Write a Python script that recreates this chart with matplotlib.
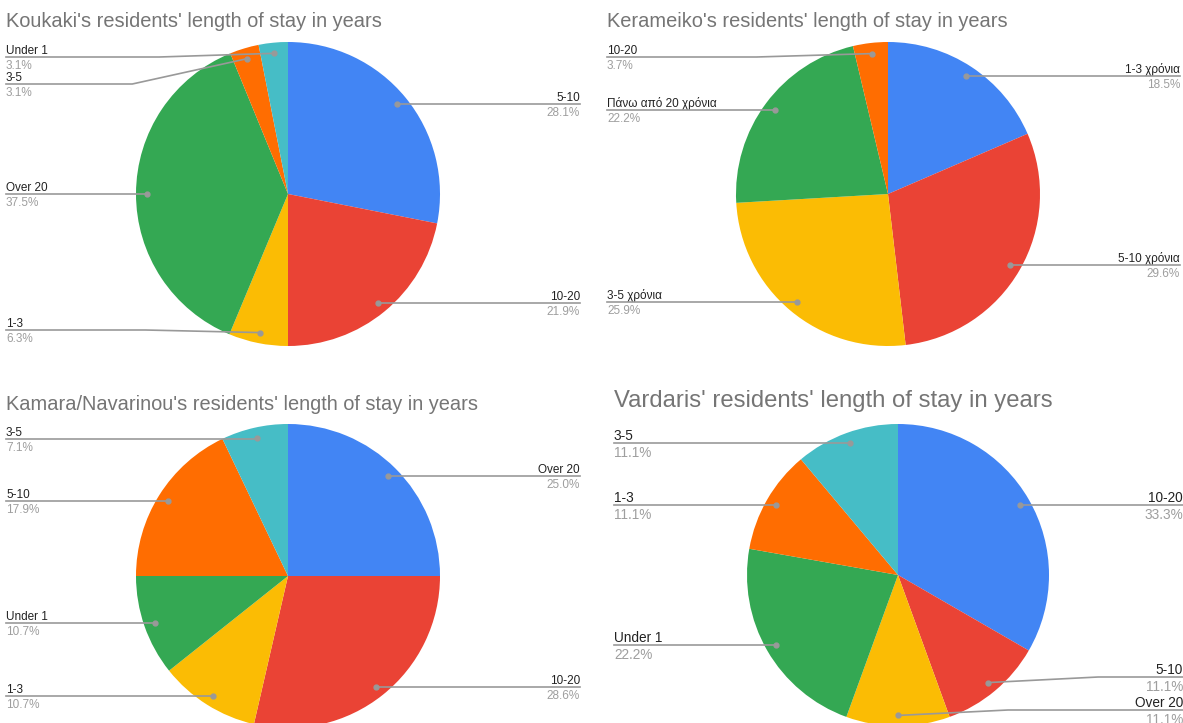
import numpy as np
import matplotlib.pyplot as plt

# Google Sheets default slice colours
palette = ['#4285F4', '#EA4335', '#FBBC04', '#34A853', '#FF6D01', '#46BDC6']

koukaki_labels = ['5-10', '10-20', '1-3', 'Over 20', '3-5', 'Under 1']
koukaki_pct = [28.1, 21.9, 6.3, 37.5, 3.1, 3.1]

kerameiko_labels = ['1-3 χρόνια', '5-10 χρόνια', '3-5 χρόνια', 'Πάνω από 20 χρόνια', '10-20']
kerameiko_pct = [18.5, 29.6, 25.9, 22.2, 3.7]

kamara_labels = ['Over 20', '10-20', '1-3', 'Under 1', '5-10', '3-5']
kamara_pct = [25.0, 28.6, 10.7, 10.7, 17.9, 7.1]

vardaris_labels = ['10-20', '5-10', 'Over 20', 'Under 1', '1-3', '3-5']
vardaris_pct = [33.3, 11.1, 11.1, 22.2, 11.1, 11.1]

plt.rcParams['font.family'] = ['Liberation Sans', 'DejaVu Sans']

fig = plt.figure(figsize=(11.83, 7.23), dpi=100)
ax = fig.add_axes([0, 0, 1, 1])

LINE = '#999999'


def spread(ys, lo, hi, gap):
    # push label rows apart so they don't overlap
    ys = np.clip(np.asarray(ys, float), lo, hi)
    order = np.argsort(ys)
    s = ys[order]
    for i in range(len(s) - 2, -1, -1):
        s[i] = min(s[i], s[i + 1] - gap)
    s[0] = max(s[0], lo)
    for i in range(1, len(s)):
        s[i] = max(s[i], s[i - 1] + gap)
    out = np.empty_like(s)
    out[order] = s
    return out


def draw_pie(title, labels, pct, cx, cy, r, x_left, x_right,
             title_y, title_size, text_size, gap):
    ax.pie(pct, colors=palette[:len(pct)], center=(cx, cy), radius=r,
           startangle=-90, counterclock=True, frame=True,
           wedgeprops={'linewidth': 0})
    ax.text(x_left, title_y, title, fontsize=title_size, color='#757575',
            va='baseline', ha='left')

    p = np.asarray(pct, float)
    frac = p / p.sum()
    mid = (np.cumsum(frac) - frac / 2) * 2 * np.pi
    dot_x = cx + 0.93 * r * np.sin(mid)
    dot_y = cy - 0.93 * r * np.cos(mid)
    right = mid <= np.pi + 1e-6

    lo, hi = cy - r + 15, cy + r - 16
    label_y = np.zeros(len(p))
    for side in (True, False):
        idx = np.where(right == side)[0]
        if len(idx):
            label_y[idx] = spread(dot_y[idx], lo, hi, gap)

    for i in range(len(p)):
        ly = label_y[i]
        if right[i]:
            edge, elbow, ha = x_right, max(dot_x[i], cx) + 110, 'right'
        else:
            edge, elbow, ha = x_left, min(dot_x[i], cx) - 115, 'left'
        if abs(ly - dot_y[i]) < 1:
            xs, ys = [dot_x[i], edge], [ly, ly]
        else:
            xs, ys = [dot_x[i], elbow, edge], [dot_y[i], ly, ly]
        ax.plot(xs, ys, color=LINE, lw=1.2, zorder=4)
        ax.plot(dot_x[i], dot_y[i], 'o', ms=3.5, color=LINE, zorder=5)
        ax.text(edge, ly - 3, labels[i], ha=ha, va='baseline',
                fontsize=text_size, color='#222222')
        ax.text(edge, ly + 3, f'{p[i]:.1f}%', ha=ha, va='top',
                fontsize=text_size, color='#9e9e9e')


draw_pie("Koukaki's residents' length of stay in years", koukaki_labels,
         koukaki_pct, 288, 194, 152, 6, 580, 27, 14.4, 8.5, 27)
draw_pie("Kerameiko's residents' length of stay in years", kerameiko_labels,
         kerameiko_pct, 888, 194, 152, 607, 1180, 27, 14.4, 8.5, 27)
draw_pie("Kamara/Navarinou's residents' length of stay in years", kamara_labels,
         kamara_pct, 288, 576, 152, 6, 580, 410, 14.4, 8.5, 27)
draw_pie("Vardaris' residents' length of stay in years", vardaris_labels,
         vardaris_pct, 898, 575, 151, 614, 1183, 407, 17.2, 9.8, 33)

ax.set_xlim(0, 1183)
ax.set_ylim(723, 0)
ax.axis('off')

fig.savefig('out.png', dpi=100)
